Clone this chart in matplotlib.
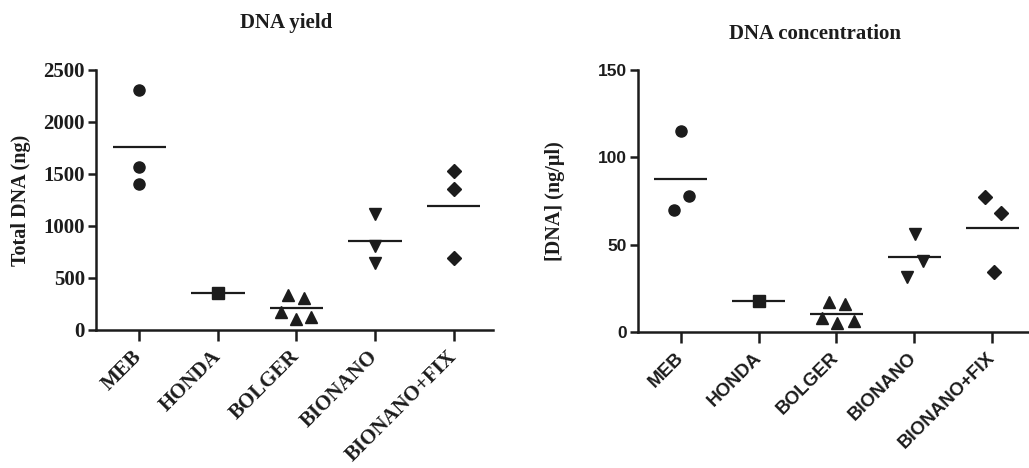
import numpy as np
import matplotlib
matplotlib.use('Agg')
from matplotlib import pyplot as plt

groups = ['MEB', 'HONDA', 'BOLGER', 'BIONANO', 'BIONANO+FIX']
markers = ['o', 's', '^', 'v', 'D']

# DNA yield, total DNA (ng)
yield_meb = [2310, 1570, 1400]
yield_honda = [360]
yield_bolger = [335, 310, 175, 105, 125]
yield_bionano = [1115, 805, 645]
yield_fix = [1530, 1355, 695]

# DNA concentration (ng/ul)
conc_meb = [115, 78, 70]
conc_honda = [17.5]
conc_bolger = [17, 16, 8, 5, 6]
conc_bionano = [55.8, 40.5, 31.5]
conc_fix = [77, 68, 34]

# horizontal scatter of the points inside each column (layout only)
jit_left = [[0, 0, 0], [0], [-0.11, 0.09, -0.2, 0.0, 0.19], [0, 0, 0], [0, 0, 0]]
jit_right = [[0, 0.1, -0.09], [0], [-0.09, 0.115, -0.19, 0.01, 0.22],
             [0.01, 0.115, -0.09], [-0.09, 0.115, 0.03]]

ink = '#1c1c1c'
serif = 'Liberation Serif'
sans = 'Liberation Sans'

fig = plt.figure(figsize=(10.29, 4.68), dpi=100)
ax1 = fig.add_axes([0.0933, 0.2949, 0.3858, 0.5556])
ax2 = fig.add_axes([0.620, 0.2912, 0.382, 0.559])


def draw(ax, data, jit, ymax, yticks, tickfont, ytsize, xtsize, ylabel):
    for i, vals in enumerate(data):
        xs = np.array(jit[i]) + i
        ax.plot(xs, vals, linestyle='none', marker=markers[i], ms=8 if markers[i] != 'D' else 7,
                color=ink, clip_on=False, zorder=3)
        m = np.mean(vals)
        ax.plot([i - 0.34, i + 0.34], [m, m], color=ink, lw=1.6, solid_capstyle='butt', zorder=2)
    ax.set_xlim(-0.55, 4.5)
    ax.set_ylim(0, ymax)
    ax.set_yticks(yticks)
    ax.set_xticks(range(len(groups)))
    ax.set_xticklabels(groups, rotation=45, ha='right', va='center', rotation_mode='anchor',
                       family=tickfont, fontweight='bold', fontsize=xtsize, color=ink)
    for lab in ax.get_yticklabels():
        lab.set_family(tickfont)
        lab.set_fontweight('bold')
        lab.set_fontsize(ytsize)
        lab.set_color(ink)
    for s in ['top', 'right']:
        ax.spines[s].set_visible(False)
    for s in ['left', 'bottom']:
        ax.spines[s].set_linewidth(1.8)
        ax.spines[s].set_color(ink)
    ax.tick_params(axis='y', length=6, width=1.8, color=ink, pad=2)
    ax.tick_params(axis='x', length=8, width=1.8, color=ink, pad=9)
    ax.set_ylabel(ylabel, family=serif, fontweight='bold', fontsize=14.5, color=ink)


draw(ax1, [yield_meb, yield_honda, yield_bolger, yield_bionano, yield_fix], jit_left,
     2500, [0, 500, 1000, 1500, 2000, 2500], serif, 15, 15, 'Total DNA (ng)')
draw(ax2, [conc_meb, conc_honda, conc_bolger, conc_bionano, conc_fix], jit_right,
     150, [0, 50, 100, 150], sans, 12.5, 13.5, '[DNA] (ng/\u00b5l)')

ax1.yaxis.set_label_coords(-0.165, 0.5)
ax2.yaxis.set_label_coords(-0.185, 0.5)

fig.text(286 / 1029, 1 - 23 / 468, 'DNA yield', family=serif, fontweight='bold',
         fontsize=15, color=ink, ha='center', va='center')
fig.text(815 / 1029, 1 - 34 / 468, 'DNA concentration', family=serif, fontweight='bold',
         fontsize=15, color=ink, ha='center', va='center')

fig.savefig('out.png', dpi=100)
